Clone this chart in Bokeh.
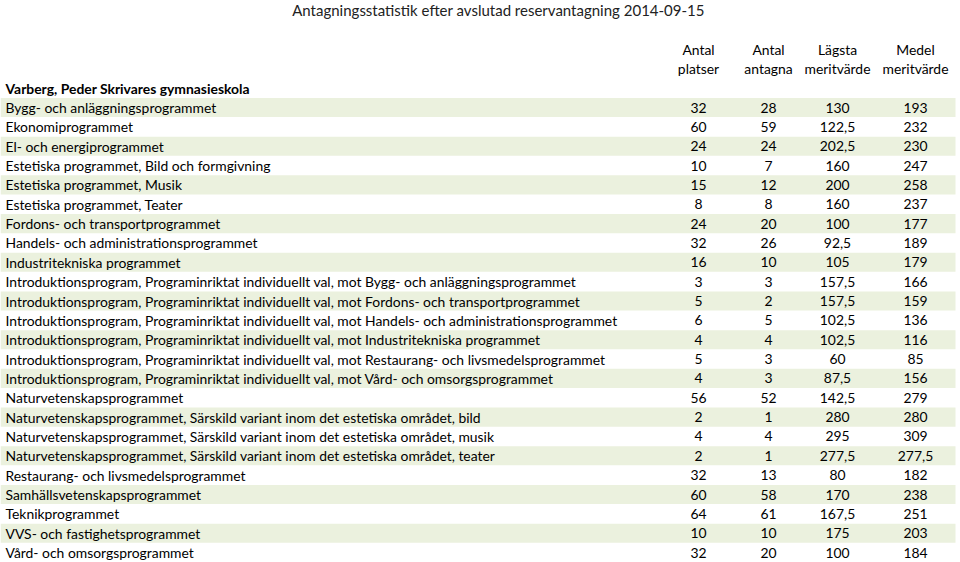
from bokeh.plotting import figure
from bokeh.models import ColumnDataSource, Range1d
from bokeh.core.properties import value
from bokeh.embed import file_html
from bokeh.resources import INLINE

title = "Antagningsstatistik efter avslutad reservantagning 2014-09-15"
school = "Varberg, Peder Skrivares gymnasieskola"
col_headers_1 = ["Antal", "Antal", "Lägsta", "Medel"]
col_headers_2 = ["platser", "antagna", "meritvärde", "meritvärde"]

programs = [
    "Bygg- och anläggningsprogrammet",
    "Ekonomiprogrammet",
    "El- och energiprogrammet",
    "Estetiska programmet, Bild och formgivning",
    "Estetiska programmet, Musik",
    "Estetiska programmet, Teater",
    "Fordons- och transportprogrammet",
    "Handels- och administrationsprogrammet",
    "Industritekniska programmet",
    "Introduktionsprogram, Programinriktat individuellt val, mot Bygg- och anläggningsprogrammet",
    "Introduktionsprogram, Programinriktat individuellt val, mot Fordons- och transportprogrammet",
    "Introduktionsprogram, Programinriktat individuellt val, mot Handels- och administrationsprogrammet",
    "Introduktionsprogram, Programinriktat individuellt val, mot Industritekniska programmet",
    "Introduktionsprogram, Programinriktat individuellt val, mot Restaurang- och livsmedelsprogrammet",
    "Introduktionsprogram, Programinriktat individuellt val, mot Vård- och omsorgsprogrammet",
    "Naturvetenskapsprogrammet",
    "Naturvetenskapsprogrammet, Särskild variant inom det estetiska området, bild",
    "Naturvetenskapsprogrammet, Särskild variant inom det estetiska området, musik",
    "Naturvetenskapsprogrammet, Särskild variant inom det estetiska området, teater",
    "Restaurang- och livsmedelsprogrammet",
    "Samhällsvetenskapsprogrammet",
    "Teknikprogrammet",
    "VVS- och fastighetsprogrammet",
    "Vård- och omsorgsprogrammet",
]
platser = [32, 60, 24, 10, 15, 8, 24, 32, 16, 3, 5, 6, 4, 5, 4, 56, 2, 4, 2, 32, 60, 64, 10, 32]
antagna = [28, 59, 24, 7, 12, 8, 20, 26, 10, 3, 2, 5, 4, 3, 3, 52, 1, 4, 1, 13, 58, 61, 10, 20]
lagsta = [130, 122.5, 202.5, 160, 200, 160, 100, 92.5, 105, 157.5, 157.5, 102.5, 102.5, 60, 87.5,
          142.5, 280, 295, 277.5, 80, 170, 167.5, 175, 100]
medel = [193, 232, 230, 247, 258, 237, 177, 189, 179, 166, 159, 136, 116, 85, 156,
         279, 280, 309, 277.5, 182, 238, 251, 203, 184]


def fmt(v):
    if float(v).is_integer():
        return str(int(v))
    return ("%g" % v).replace(".", ",")


W, H = 960, 562
FONT = "Lato"
FS = "13.9px"
col_x = [698, 768, 837, 915]
ROW0, PITCH = 107.0, 19.35

n = len(programs)
rows = list(range(n))

p = figure(width=W, height=H, output_backend="svg", toolbar_location=None,
           x_range=Range1d(0, W),
           y_range=Range1d((H - ROW0) / PITCH, (0 - ROW0) / PITCH),
           min_border=0, outline_line_color=None)
p.axis.visible = False
p.grid.visible = False
p.background_fill_color = "white"
p.border_fill_color = "white"

# stripes
shade_rows = [r for r in rows if r % 2 == 0]
p.rect(x=[477.5] * len(shade_rows), y=shade_rows, width=955, height=0.985,
       fill_color="#EBF1DE", line_color=None)

src = ColumnDataSource(dict(y=rows, name=programs,
                            pl=[fmt(v) for v in platser], an=[fmt(v) for v in antagna],
                            lg=[fmt(v) for v in lagsta], me=[fmt(v) for v in medel]))
p.text(x=5, y="y", text="name", source=src, text_font=value(FONT), text_font_size=FS,
       text_baseline="middle", text_align="left", text_color="#000000")
for cx, key in zip(col_x, ["pl", "an", "lg", "me"]):
    p.text(x=cx, y="y", text=key, source=src, text_font=value(FONT), text_font_size=FS,
           text_baseline="middle", text_align="center", text_color="#000000")

# headers
p.text(x=[498], y=[-5.04], text=[title], text_font=value(FONT), text_font_size="15px",
       text_baseline="middle", text_align="center", text_color="#222222")
p.text(x=col_x, y=[-3.0] * 4, text=col_headers_1, text_font=value(FONT), text_font_size=FS,
       text_baseline="middle", text_align="center", text_color="#000000")
p.text(x=col_x, y=[-2.02] * 4, text=col_headers_2, text_font=value(FONT), text_font_size=FS,
       text_baseline="middle", text_align="center", text_color="#000000")
p.text(x=[5], y=[-0.98], text=[school], text_font=value(FONT), text_font_size=FS,
       text_font_style="bold", text_baseline="middle", text_align="left", text_color="#000000")

open("out.html", "w").write(file_html(p, INLINE))
